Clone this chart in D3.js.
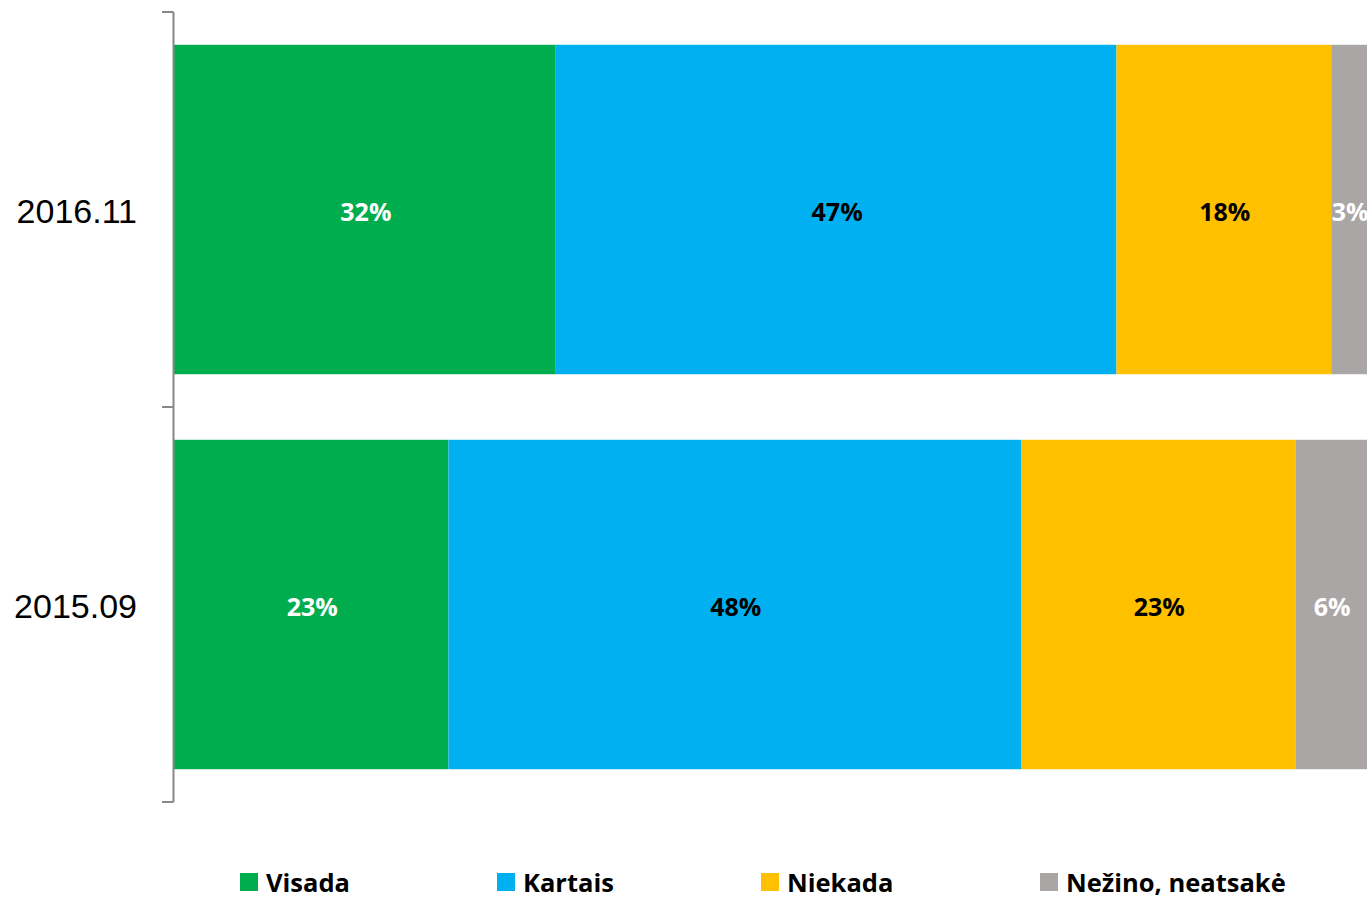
<!DOCTYPE html>
<html><head><meta charset="utf-8">
<script src="https://cdn.jsdelivr.net/npm/d3@7"></script>
<style>html,body{margin:0;padding:0;background:#fff;overflow:hidden}</style>
</head><body>
<svg id="c" width="1369" height="899"></svg>
<script>
const categories = ["2016.11", "2015.09"];
const seriesNames = ["Visada", "Kartais", "Niekada", "Nežino, neatsakė"];
const visada = [32, 23];
const kartais = [47, 48];
const niekada = [18, 23];
const nezino = [3, 6];
const colors = ["#00AD4E", "#00B0F0", "#FFC000", "#AAA6A6"];
const labelColors = ["#fff", "#000", "#000", "#fff"];

const seriesVals = [visada, kartais, niekada, nezino];
const rows = categories.map((c, i) => {
  const o = {cat: c};
  seriesNames.forEach((s, j) => o[s] = seriesVals[j][i]);
  return o;
});
const stack = d3.stack().keys(seriesNames)(rows);

const svg = d3.select("#c");
const x = d3.scaleLinear().domain([0, 100]).range([174, 1367]);
const y = d3.scaleBand().domain(categories).range([12, 802]).paddingInner(0.166).paddingOuter(0.083);

const g = svg.append("g");
stack.forEach((layer, j) => {
  g.selectAll(null).data(layer).enter().append("rect")
    .attr("x", d => x(d[0]))
    .attr("y", d => y(d.data.cat))
    .attr("width", d => x(d[1]) - x(d[0]))
    .attr("height", y.bandwidth())
    .attr("fill", colors[j]);
  g.selectAll(null).data(layer).enter().append("text")
    .attr("x", d => (x(d[0]) + x(d[1])) / 2 + 1)
    .attr("y", d => y(d.data.cat) + y.bandwidth() / 2)
    .attr("dy", "0.44em")
    .attr("text-anchor", "middle")
    .attr("font-family", "Open Sans")
    .attr("font-weight", "bold")
    .attr("font-size", 25)
    .attr("fill", labelColors[j])
    .text(d => (d[1] - d[0]) + "%");
});

// axis
const ax = svg.append("g");
ax.append("line").attr("x1", 173.5).attr("x2", 173.5).attr("y1", 12).attr("y2", 802)
  .attr("stroke", "#888").attr("stroke-width", 2);
const tickYs = [12, y(categories[0]) + y.bandwidth() + y.step()*y.paddingInner()/2, 802];
ax.selectAll(null).data(tickYs).enter().append("line")
  .attr("x1", 162).attr("x2", 173.5).attr("y1", d => d).attr("y2", d => d)
  .attr("stroke", "#888").attr("stroke-width", 2);
ax.selectAll(null).data(categories).enter().append("text")
  .attr("x", 137)
  .attr("y", d => y(d) + y.bandwidth() / 2)
  .attr("dy", "0.4em")
  .attr("text-anchor", "end")
  .attr("font-family", "Liberation Sans, Arial")
  .attr("font-size", 34)
  .attr("fill", "#000")
  .text(d => d);

// legend
const legX = [240, 497, 761, 1040];
const lg = svg.append("g");
seriesNames.forEach((s, j) => {
  lg.append("rect").attr("x", legX[j]).attr("y", 873).attr("width", 18).attr("height", 18).attr("fill", colors[j]);
  lg.append("text").attr("x", legX[j] + 26).attr("y", 892)
    .attr("font-family", "Open Sans").attr("font-weight", "bold").attr("font-size", 25.5)
    .attr("fill", "#000").text(s);
});
</script>
</body></html>
